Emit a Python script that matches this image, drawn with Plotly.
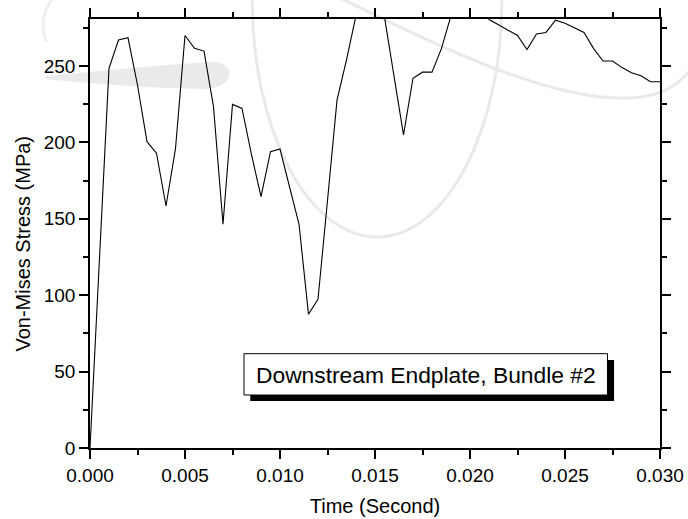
import plotly.graph_objects as go

# ---------------- data ----------------
time_s = [round(i * 0.0005, 4) for i in range(61)]
stress_mpa = [
    0, 124, 248.5, 267, 268.5, 237.6, 200.5, 193, 158.4, 196,
    270, 261.6, 259.8, 223.4, 146.4, 224.9, 222.3, 192, 164.5, 194,
    195.7, 171, 146.6, 87.5, 97.3, 162, 227.7, 254, 283, 300,
    298, 282, 243, 205, 242, 246, 246, 261.6, 283, 292,
    296, 288, 280.5, 277, 273.6, 270, 260.8, 271, 272, 280,
    278, 275, 272, 261.6, 253.3, 253.3, 249, 245.6, 243.7, 239.7,
    239.7,
]
x_ticks = [0.0, 0.005, 0.010, 0.015, 0.020, 0.025, 0.030]
y_ticks = [0, 50, 100, 150, 200, 250]
x_title = "Time (Second)"
y_title = "Von-Mises Stress (MPa)"
box_text = "Downstream Endplate, Bundle #2"

# ---------------- layout geometry (pixels) ----------------
W, H = 688, 519
L, R, T, B = 89.5, 660.3, 19, 448


def px(x):
    return (x - L) / (R - L)


def py(y):
    return (B - y) / (B - T)


def bezier(p0, p1, p2, p3, n=24):
    pts = []
    for i in range(n + 1):
        t = i / n
        a = (1 - t) ** 3
        b = 3 * (1 - t) ** 2 * t
        c = 3 * (1 - t) * t ** 2
        d = t ** 3
        pts.append((a * p0[0] + b * p1[0] + c * p2[0] + d * p3[0],
                    a * p0[1] + b * p1[1] + c * p2[1] + d * p3[1]))
    return pts


def poly(points, close=False):
    s = "M" + "L".join(f"{px(a):.5f},{py(b):.5f}" for a, b in points)
    return s + ("Z" if close else "")


FONT = "Arial, Liberation Sans, sans-serif"

fig = go.Figure()
fig.add_trace(go.Scatter(
    x=time_s, y=stress_mpa, mode="lines",
    line=dict(color="black", width=1.1),
    showlegend=False, hoverinfo="x+y",
))

wm = "#e9e9e9"
arc_pts = bezier((340, -2), (430, 42), (540, 97), (620, 98)) + \
    bezier((620, 98), (660, 99), (685, 85), (700, 55))[1:]
tl_pts = bezier((52, -2), (42, 12), (40, 28), (46, 42), n=12)
sw_top = bezier((45, 76), (110, 70), (170, 64), (212, 62), n=16)
sw_end = bezier((212, 62), (236, 61), (236, 88), (205, 89), n=10)[1:]
sw_bot = bezier((205, 89), (150, 88), (95, 84), (45, 79), n=16)[1:]

shapes = [
    # watermark: vertical ellipse
    dict(type="circle", xref="paper", yref="paper", layer="below",
         x0=px(252), x1=px(502), y0=py(237), y1=py(-237),
         line=dict(color=wm, width=3)),
    # watermark: large sweeping arc top-right
    dict(type="path", xref="paper", yref="paper", layer="below",
         path=poly(arc_pts), line=dict(color=wm, width=3)),
    # watermark: small arc top-left
    dict(type="path", xref="paper", yref="paper", layer="below",
         path=poly(tl_pts), line=dict(color="#eeeeee", width=3)),
    # watermark: swoosh
    dict(type="path", xref="paper", yref="paper", layer="below",
         path=poly(sw_top + sw_end + sw_bot, close=True),
         fillcolor="#eaeaea", line=dict(width=0)),
    # label box shadow
    dict(type="rect", xref="paper", yref="paper", layer="above",
         x0=px(250), x1=px(614.3), y0=py(401), y1=py(360),
         fillcolor="black", line=dict(width=0)),
    # label box
    dict(type="rect", xref="paper", yref="paper", layer="above",
         x0=px(243.7), x1=px(607.7), y0=py(395), y1=py(353.7),
         fillcolor="white", line=dict(color="black", width=1)),
]

annotations = [
    dict(text=box_text, xref="paper", yref="paper",
         x=px(426), y=py(374.6), xanchor="center", yanchor="middle",
         showarrow=False, font=dict(family=FONT, size=22.8, color="black")),
    dict(text=y_title, xref="paper", yref="paper",
         x=px(22), y=py(244), xanchor="center", yanchor="middle",
         textangle=-90, showarrow=False,
         font=dict(family=FONT, size=20, color="black")),
]

axis_common = dict(
    showline=True, linecolor="black", linewidth=1.6, mirror="ticks",
    ticks="outside", ticklen=9, tickwidth=1.5, tickcolor="black",
    showgrid=False, zeroline=False,
    tickfont=dict(family=FONT, size=19, color="black"),
)

fig.update_layout(
    width=W, height=H,
    margin=dict(l=L, r=W - R, t=T, b=H - B, autoexpand=False),
    paper_bgcolor="white", plot_bgcolor="rgba(0,0,0,0)",
    font=dict(family=FONT, color="black"),
    shapes=shapes, annotations=annotations,
    xaxis=dict(
        **axis_common, range=[0, 0.030], tickvals=x_ticks, tickformat=".3f",
        minor=dict(dtick=0.0025, ticks="outside", ticklen=5, tickwidth=1.5,
                   tickcolor="black", showgrid=False),
        title=dict(text=x_title, standoff=14,
                   font=dict(family=FONT, size=20, color="black")),
    ),
    yaxis=dict(
        **axis_common, range=[0, 280.8], tickvals=y_ticks,
        minor=dict(dtick=25, ticks="outside", ticklen=5, tickwidth=1.5,
                   tickcolor="black", showgrid=False),
    ),
)

fig.write_html("out.html")
